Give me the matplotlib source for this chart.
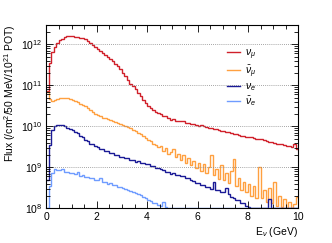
import numpy as np
import matplotlib
matplotlib.use("Agg")
import matplotlib.pyplot as plt
from matplotlib.ticker import LogLocator, MultipleLocator, NullFormatter

plt.rcParams['font.family'] = ['Liberation Sans', 'DejaVu Sans']
plt.rcParams['mathtext.fontset'] = 'custom'
plt.rcParams['mathtext.rm'] = 'Liberation Sans'
plt.rcParams['mathtext.it'] = 'Liberation Sans:italic'
plt.rcParams['mathtext.bf'] = 'Liberation Sans:bold'

# 0.1 GeV bins from 0 to 10 GeV, values are log10(flux)
bin_edges = np.arange(0, 10.05, 0.1)

numu_log = [
    10.85, 11.55, 11.80, 11.93, 12.03, 12.10, 12.14, 12.17, 12.19, 12.19,
    12.19, 12.18, 12.18, 12.16, 12.15, 12.12, 12.07, 12.03, 11.98, 11.94,
    11.89, 11.84, 11.79, 11.74, 11.69, 11.65, 11.59, 11.53, 11.47, 11.39,
    11.31, 11.22, 11.13, 11.04, 10.98, 10.90, 10.82, 10.74, 10.65, 10.57,
    10.50, 10.45, 10.40, 10.36, 10.33, 10.29, 10.26, 10.24, 10.19, 10.16,
    10.17, 10.14, 10.13, 10.12, 10.12, 10.09, 10.08, 10.06, 10.05, 10.04,
    10.01, 10.02, 10.00, 9.98, 9.97, 9.95, 9.93, 9.93, 9.90, 9.89,
    9.88, 9.87, 9.85, 9.83, 9.82, 9.81, 9.79, 9.77, 9.77, 9.75,
    9.73, 9.73, 9.71, 9.70, 9.69, 9.68, 9.66, 9.64, 9.62, 9.61,
    9.60, 9.58, 9.56, 9.56, 9.55, 9.53, 9.52, 9.50, 9.58, 9.44,
]

numubar_log = [
    10.84, 10.66, 10.62, 10.63, 10.66, 10.68, 10.70, 10.70, 10.69, 10.67,
    10.65, 10.62, 10.58, 10.55, 10.53, 10.50, 10.44, 10.40, 10.35, 10.31,
    10.28, 10.25, 10.21, 10.19, 10.17, 10.15, 10.13, 10.10, 10.08, 10.05,
    10.03, 10.01, 9.98, 9.95, 9.92, 9.89, 9.84, 9.80, 9.77, 9.72,
    9.67, 9.63, 9.57, 9.55, 9.49, 9.52, 9.40, 9.46, 9.33, 9.38,
    9.45, 9.25, 9.32, 9.18, 9.30, 9.10, 9.22, 9.05, 9.15, 8.98,
    9.10, 8.92, 9.08, 8.85, 9.00, 9.30, 8.82, 8.95, 8.72, 9.05,
    8.70, 8.85, 8.62, 8.90, 9.20, 8.55, 8.75, 8.45, 8.65, 8.40,
    8.60, 8.30, 8.55, 8.25, 9.00, 8.25, 8.45, 8.15, 8.50, 8.12,
    8.65, 8.05, 8.30, 8.02, 8.22, 7.95, 8.15, 8.00, 8.10, 8.28,
]

nue_log = [
    8.70, 9.55, 9.90, 10.00, 10.03, 10.04, 10.02, 10.00, 9.97, 9.93,
    9.90, 9.85, 9.83, 9.76, 9.73, 9.66, 9.63, 9.58, 9.56, 9.51,
    9.50, 9.45, 9.45, 9.40, 9.40, 9.36, 9.35, 9.31, 9.30, 9.26,
    9.26, 9.22, 9.22, 9.18, 9.18, 9.14, 9.15, 9.10, 9.11, 9.07,
    9.07, 9.03, 9.04, 8.99, 8.99, 8.95, 8.94, 8.89, 8.88, 8.84,
    8.85, 8.81, 8.82, 8.78, 8.79, 8.74, 8.73, 8.68, 8.67, 8.62,
    8.62, 8.57, 8.57, 8.52, 8.52, 8.48, 8.65, 8.44, 8.44, 8.39,
    8.39, 8.50, 8.34, 8.28, 8.26, 8.21, 8.20, 8.14, 8.12, 8.06,
    8.03, 7.95, 7.85, 7.80, 7.75, 7.70, 7.65, 7.60, 8.22, 7.50,
    7.45, 7.40, 7.35, 7.30, 7.25, 7.20, 7.15, 7.10, 7.05, 7.00,
]

nuebar_log = [
    8.00, 8.55, 8.85, 8.97, 8.94, 8.93, 8.96, 8.89, 8.89, 8.85,
    8.86, 8.83, 8.88, 8.79, 8.80, 8.76, 8.77, 8.73, 8.74, 8.70,
    8.70, 8.75, 8.65, 8.64, 8.60, 8.61, 8.57, 8.57, 8.53, 8.53,
    8.49, 8.48, 8.44, 8.43, 8.39, 8.38, 8.34, 8.32, 8.28, 8.26,
    8.21, 8.19, 8.13, 8.12, 8.07, 8.06, 8.15, 8.02, 7.90, 7.80,
    -np.inf, -np.inf, -np.inf, -np.inf, -np.inf, -np.inf, -np.inf, -np.inf, -np.inf, -np.inf,
    -np.inf, -np.inf, -np.inf, -np.inf, -np.inf, -np.inf, -np.inf, -np.inf, -np.inf, -np.inf,
    -np.inf, -np.inf, -np.inf, -np.inf, -np.inf, -np.inf, -np.inf, -np.inf, -np.inf, -np.inf,
    -np.inf, -np.inf, -np.inf, -np.inf, -np.inf, -np.inf, -np.inf, -np.inf, -np.inf, -np.inf,
    -np.inf, -np.inf, -np.inf, -np.inf, -np.inf, -np.inf, -np.inf, -np.inf, -np.inf, -np.inf,
]

labels = [r'$\nu_{\mu}$', r'$\bar{\nu}_{\mu}$', r'$\nu_{e}$', r'$\bar{\nu}_{e}$']
colors = ['#d0202a', '#ffa040', '#1a1a96', '#6f9cff']

ymin, ymax = 1.0e8, 3.0e12

fig = plt.figure(figsize=(3.32, 2.43), dpi=100)
ax = fig.add_axes([0.1395, 0.1428, 0.759, 0.7556])

for vals, lab, col in zip([numu_log, numubar_log, nue_log, nuebar_log], labels, colors):
    flux = 10 ** np.array(vals)
    # ROOT draws underflowing bins along the frame bottom
    ax.stairs(np.clip(flux, ymin, None), bin_edges, baseline=None, color=col, lw=1.0, label=lab)

ax.set_yscale('log')
ax.set_xlim(0, 10)
ax.set_ylim(ymin, ymax)

ax.xaxis.set_major_locator(MultipleLocator(2))
ax.xaxis.set_minor_locator(MultipleLocator(0.5))
ax.yaxis.set_major_locator(LogLocator(base=10, numticks=10))
ax.yaxis.set_minor_locator(LogLocator(base=10, subs=np.arange(2, 10), numticks=20))
ax.yaxis.set_minor_formatter(NullFormatter())

ax.tick_params(which='both', direction='in', top=True, right=True, labelsize=7.5, pad=3)
ax.tick_params(which='major', length=5, width=0.6)
ax.tick_params(which='minor', length=2.8, width=0.6)
for s in ax.spines.values():
    s.set_linewidth(0.8)

ax.grid(axis='y', which='major', linestyle=(0, (1, 1.5)), color='#888888', lw=0.6)

ax.set_xlabel(r'E$_{\nu}$ (GeV)', fontsize=7.5, loc='right', labelpad=2)
ax.set_ylabel(r'Flux (/cm$^{2}$/50 MeV/10$^{21}$ POT)', fontsize=7.5, loc='top', labelpad=2)

leg = ax.legend(loc='upper left', bbox_to_anchor=(0.7, 0.9), frameon=False, fontsize=7.5,
                handlelength=1.3, handletextpad=0.4, labelspacing=0.15, borderaxespad=0)

fig.savefig('out.png', dpi=100)
